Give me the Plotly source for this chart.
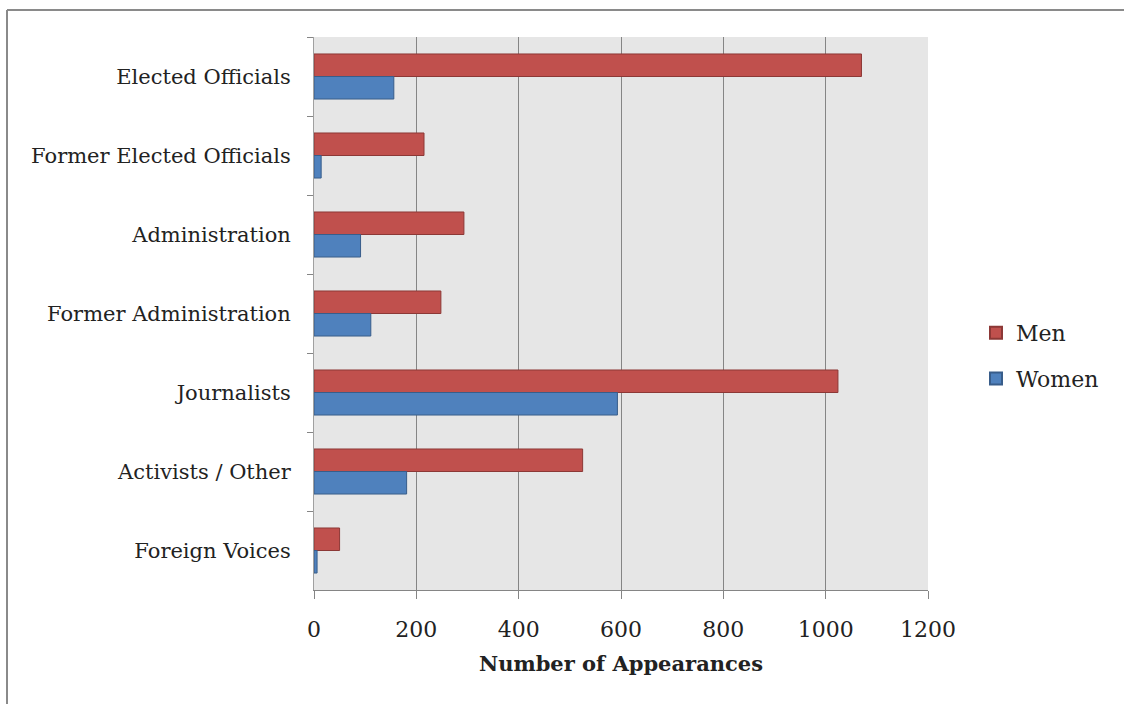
import plotly.graph_objects as go

categories = ["Elected Officials", "Former Elected Officials", "Administration",
              "Former Administration", "Journalists", "Activists / Other", "Foreign Voices"]
men = [1070, 215, 293, 248, 1024, 525, 50]
women = [156, 14, 91, 111, 593, 181, 6]
x_ticks = [0, 200, 400, 600, 800, 1000, 1200]

W, H = 1124, 704
L, R, T, B = 314, 928, 37, 590

font = "DejaVu Serif"

fig = go.Figure()
fig.add_trace(go.Bar(y=categories, x=men, name="Men", orientation="h", legendgroup="m",
                     marker=dict(color="#C0504D", line=dict(color="#8C3836", width=1))))
fig.add_trace(go.Bar(y=categories, x=women, name="Women", orientation="h", legendgroup="w",
                     marker=dict(color="#4F81BD", line=dict(color="#385D8A", width=1))))

def px(x):
    return (x - L) / (R - L)

def py(y):
    return (B - y) / (B - T)

fig.update_layout(
    width=W, height=H,
    margin=dict(l=L, r=W - R, t=T, b=H - B, pad=0),
    paper_bgcolor="white",
    plot_bgcolor="#E6E6E6",
    barmode="group",
    bargap=0.43,
    bargroupgap=0,
    font=dict(family=font, size=21, color="#222"),
    xaxis=dict(range=[0, 1200], tickvals=x_ticks, showgrid=True, gridcolor="#858585",
               gridwidth=1, showline=True, linecolor="#858585", linewidth=1,
               ticks="outside", ticklen=8, tickcolor="#858585", zeroline=False,
               ticklabelstandoff=12,
               tickfont=dict(family=font, size=22, color="#222"),
               title=dict(text="<b>Number of Appearances</b>", standoff=14,
                          font=dict(family=font, size=21, color="#222"))),
    yaxis=dict(autorange="reversed", showgrid=False, showline=True, linecolor="#A0A0A0",
               linewidth=1, ticks="outside", tickson="boundaries", ticklen=6,
               tickcolor="#858585", ticklabelstandoff=18,
               tickfont=dict(family=font, size=21, color="#222")),
    legend=dict(x=px(976), y=py(312), xanchor="left", yanchor="top",
                traceorder="grouped", font=dict(family=font, size=22, color="#222"),
                itemsizing="constant", tracegroupgap=14, itemwidth=30,
                bgcolor="rgba(0,0,0,0)"),
    showlegend=True,
)

# outer chart border (left and top edges)
fig.add_shape(type="line", xref="paper", yref="paper", x0=px(7), x1=px(7),
              y0=py(10), y1=py(704), line=dict(color="#8A8A8A", width=2))
fig.add_shape(type="line", xref="paper", yref="paper", x0=px(7), x1=px(1124),
              y0=py(10), y1=py(10), line=dict(color="#8A8A8A", width=2))

fig.write_html("out.html")
